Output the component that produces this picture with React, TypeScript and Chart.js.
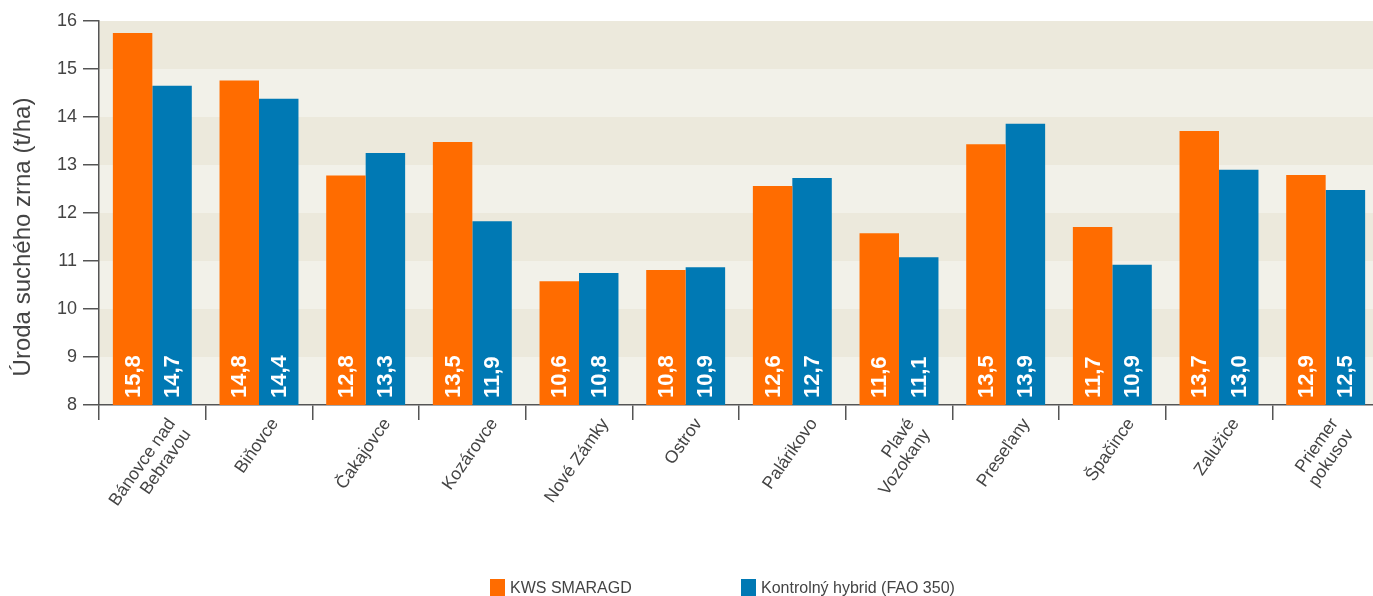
import { useEffect, useRef } from "react";
import { Chart, registerables } from "chart.js";

Chart.register(...registerables);

const categories: string[][] = [
  ["Bánovce nad", "Bebravou"],
  ["Biňovce"],
  ["Čakajovce"],
  ["Kozárovce"],
  ["Nové Zámky"],
  ["Ostrov"],
  ["Palárikovo"],
  ["Plavé", "Vozokany"],
  ["Preseľany"],
  ["Špačince"],
  ["Zalužice"],
  ["Priemer", "pokusov"],
];
const kwsValues = [15.75, 14.76, 12.78, 13.48, 10.58, 10.81, 12.56, 11.58, 13.43, 11.71, 13.71, 12.79];
const controlValues = [14.65, 14.38, 13.25, 11.83, 10.75, 10.87, 12.73, 11.08, 13.86, 10.92, 12.9, 12.48];
const kwsLabels = ["15,8", "14,8", "12,8", "13,5", "10,6", "10,8", "12,6", "11,6", "13,5", "11,7", "13,7", "12,9"];
const controlLabels = ["14,7", "14,4", "13,3", "11,9", "10,8", "10,9", "12,7", "11,1", "13,9", "10,9", "13,0", "12,5"];
const seriesNames = ["KWS SMARAGD", "Kontrolný hybrid (FAO 350)"];
const yTitle = "Úroda suchého zrna (t/ha)";
const yMin = 8;
const yMax = 16;

const ORANGE = "#FF6C00";
const BLUE = "#0079B4";
const BAND_DARK = "#ECE9DC";
const BAND_LIGHT = "#F2F1E9";
const AXIS = "#555555";
const TEXT = "#444444";
const FONT = "'Liberation Sans', Arial, sans-serif";

const bandsPlugin = {
  id: "bands",
  beforeDraw(chart: any) {
    const { ctx, chartArea, scales } = chart;
    const y = scales.y;
    ctx.save();
    for (let v = yMin; v < yMax; v++) {
      const top = y.getPixelForValue(v + 1);
      const bottom = y.getPixelForValue(v);
      ctx.fillStyle = (v - yMin) % 2 === 0 ? BAND_LIGHT : BAND_DARK;
      ctx.fillRect(chartArea.left, top, chartArea.right - chartArea.left, bottom - top);
    }
    ctx.restore();
  },
};

const valueLabelsPlugin = {
  id: "valueLabels",
  afterDraw(chart: any) {
    const { ctx } = chart;
    const labelSets = [kwsLabels, controlLabels];
    const base = chart.scales.y.getPixelForValue(yMin);
    ctx.save();
    ctx.fillStyle = "#ffffff";
    ctx.font = "bold 22px 'Liberation Sans', Arial, sans-serif";
    ctx.textAlign = "left";
    ctx.textBaseline = "middle";
    for (let di = 0; di < 2; di++) {
      const meta = chart.getDatasetMeta(di);
      for (let i = 0; i < meta.data.length; i++) {
        const bar: any = meta.data[i];
        const x = bar.x;
        ctx.save();
        ctx.translate(x, base - 7);
        ctx.rotate(-Math.PI / 2);
        ctx.fillText(labelSets[di][i], 0, 1);
        ctx.restore();
      }
    }
    ctx.restore();
  },
};

const ROT = (55 * Math.PI) / 180;
const xLabelsPlugin = {
  id: "xLabels",
  afterDraw(chart: any) {
    const { ctx } = chart;
    const xs = chart.scales.x;
    const lineH = 19;
    ctx.save();
    ctx.fillStyle = TEXT;
    ctx.font = `17.5px ${FONT}`;
    ctx.textAlign = "right";
    ctx.textBaseline = "middle";
    categories.forEach((lines, i) => {
      const cx = xs.getPixelForValue(i);
      const L = Math.max(...lines.map((t) => ctx.measureText(t).width));
      const H = lines.length * lineH;
      const boxH = L * Math.sin(ROT) + H * Math.cos(ROT);
      const px = cx - 2;
      const py = 415 + boxH / 2;
      ctx.save();
      ctx.translate(px, py);
      ctx.rotate(-ROT);
      lines.forEach((t, li) => {
        ctx.fillText(t, L / 2, -H / 2 + lineH * (li + 0.5));
      });
      ctx.restore();
    });
    ctx.restore();
  },
};

const yTitlePlugin = {
  id: "yTitle",
  afterDraw(chart: any) {
    const { ctx } = chart;
    ctx.save();
    ctx.fillStyle = TEXT;
    ctx.font = `24px ${FONT}`;
    ctx.textAlign = "center";
    ctx.textBaseline = "middle";
    ctx.translate(23, 237);
    ctx.rotate(-Math.PI / 2);
    ctx.fillText(yTitle, 0, 0);
    ctx.restore();
  },
};

export default function App() {
  const ref = useRef<HTMLCanvasElement | null>(null);

  useEffect(() => {
    document.body.style.margin = "0";
    document.body.style.overflow = "hidden";
    const canvas = ref.current;
    if (!canvas) return;
    const chart = new Chart(canvas, {
      type: "bar",
      data: {
        labels: categories.map((c) => c.join(" ")),
        datasets: [
          {
            label: seriesNames[0],
            data: kwsValues,
            backgroundColor: ORANGE,
            categoryPercentage: 0.74,
            barPercentage: 1,
          },
          {
            label: seriesNames[1],
            data: controlValues,
            backgroundColor: BLUE,
            categoryPercentage: 0.74,
            barPercentage: 1,
          },
        ],
      },
      options: {
        animation: false,
        responsive: false,
        devicePixelRatio: 1,
        layout: { padding: { top: 21, left: 0, right: 1, bottom: 0 } },
        plugins: {
          legend: { display: false },
          tooltip: { enabled: false },
        },
        scales: {
          x: {
            offset: true,
            grid: {
              offset: true,
              drawOnChartArea: false,
              drawTicks: true,
              tickLength: 15,
              color: AXIS,
              lineWidth: 1.5,
            },
            border: { display: true, color: AXIS, width: 1.5 },
            ticks: { display: false },
            afterFit(scale: any) {
              scale.height = 191;
            },
          },
          y: {
            min: yMin,
            max: yMax,
            ticks: {
              stepSize: 1,
              padding: 6,
              color: TEXT,
              font: { family: FONT, size: 18 },
            },
            grid: {
              drawOnChartArea: false,
              drawTicks: true,
              tickLength: 16,
              color: AXIS,
              lineWidth: 1.5,
            },
            border: { display: true, color: AXIS, width: 1.5 },
            afterFit(scale: any) {
              scale.width = 99;
            },
          },
        },
      },
      plugins: [bandsPlugin, valueLabelsPlugin, xLabelsPlugin, yTitlePlugin],
    });
    return () => chart.destroy();
  }, []);

  const legendItem = (color: string, text: string, left: number) => (
    <div
      style={{
        position: "absolute",
        left,
        top: 579,
        display: "flex",
        alignItems: "flex-start",
        fontFamily: FONT,
        fontSize: 16,
        color: TEXT,
        lineHeight: "17px",
        whiteSpace: "nowrap",
      }}
    >
      <span style={{ display: "inline-block", width: 15, height: 17, background: color, marginRight: 5 }} />
      <span>{text}</span>
    </div>
  );

  return (
    <div style={{ position: "relative", width: 1373, height: 596, overflow: "hidden", background: "#fff" }}>
      <canvas ref={ref} width={1380} height={596} style={{ display: "block", width: 1380, height: 596 }} />
      {legendItem(ORANGE, seriesNames[0], 490)}
      {legendItem(BLUE, seriesNames[1], 741)}
    </div>
  );
}
